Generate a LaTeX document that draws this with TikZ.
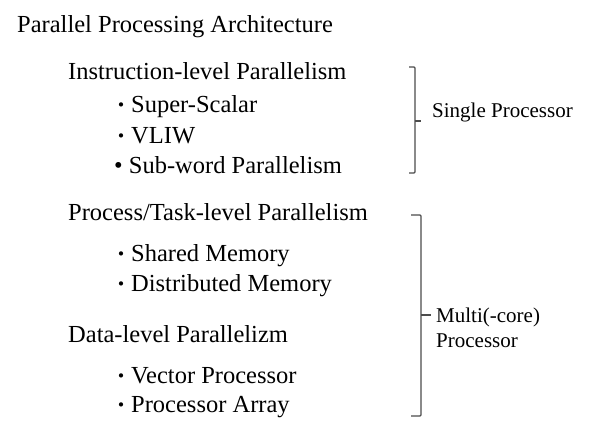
\documentclass[tikz,border=0pt]{standalone}
\usepackage{fontspec}
\setmainfont{Liberation Serif}
\newfontfamily\jpfont{Noto Sans CJK JP}
\usetikzlibrary{calc}

\newcommand{\sqdot}{{\jpfont\fontsize{20}{24}\selectfont ・}}

\begin{document}
\begin{tikzpicture}[x=1pt,y=-1pt,
	item/.style={anchor=base west,inner sep=0pt,font=\fontsize{24.5}{28}\selectfont},
	side/.style={anchor=base west,inner sep=0pt,font=\fontsize{21}{25}\selectfont},
	brace/.style={black!70,line width=1.1pt,rounded corners=1pt}]
	
	\useasboundingbox (0,0) rectangle (599,428);
	
	\coordinate (Top) at (17,33);
	\coordinate (IL)  at (68,79);
	\coordinate (PT)  at (68,220);
	\coordinate (DL)  at (68,342);
	
	\node[item] (top) at (Top) {Parallel Processing Architecture};
	
	\node[item] (ilp) at (IL) {Instruction-level Parallelism};
	\node[item] (ss)  at ($(IL)+(43,33)$) {\sqdot Super-Scalar};
	\node[item] (vl)  at ($(IL)+(43,64)$) {\sqdot VLIW};
	\node[item] (sw)  at ($(IL)+(46,94)$) {• Sub-word Parallelism};
	
	\node[item] (ptl) at (PT) {Process/Task-level Parallelism};
	\node[item] (sm)  at ($(PT)+(43,41)$) {\sqdot Shared Memory};
	\node[item] (dm)  at ($(PT)+(43,71)$) {\sqdot Distributed Memory};
	
	\node[item] (dlp) at (DL) {Data-level Parallelizm};
	\node[item] (vp)  at ($(DL)+(43,41)$) {\sqdot Vector Processor};
	\node[item] (pa)  at ($(DL)+(43,70)$) {\sqdot Processor Array};
	
	% brackets on the right
	\coordinate (B1t) at (415,67);
	\coordinate (B1b) at (415,173);
	\coordinate (B1m) at (415,121);
	\coordinate (B2t) at (421,215);
	\coordinate (B2b) at (421,416);
	\coordinate (B2m) at (421,315);
	
	\draw[brace] ($(B1t)-(6,0)$) -- (B1t) -- (B1b) -- ($(B1b)-(6,0)$);
	\draw[brace] (B1m) -- ($(B1m)+(6,0)$);
	\draw[brace] ($(B2t)-(10,0)$) -- (B2t) -- (B2b) -- ($(B2b)-(10,0)$);
	\draw[brace] (B2m) -- ($(B2m)+(10,0)$);
	
	\node[side] (sp)  at (432,117) {Single Processor};
	\node[side] (mc1) at (436,322) {Multi(-core)};
	\node[side] (mc2) at (436,347) {Processor};
\end{tikzpicture}
\end{document}
